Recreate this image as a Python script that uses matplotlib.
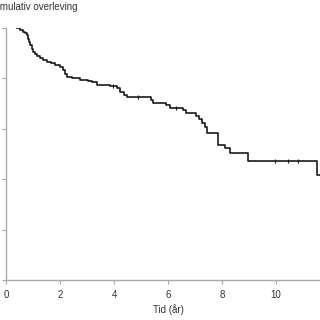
import matplotlib
matplotlib.use("Agg")
import matplotlib.pyplot as plt
import numpy as np

plt.rcParams['font.family'] = ['Liberation Sans', 'DejaVu Sans']

# Kaplan-Meier steps (time in years, cumulative survival)
tider = [0.0, 0.41, 0.52, 0.63, 0.70, 0.78, 0.81, 0.85, 0.89, 0.96, 1.00, 1.07,
         1.15, 1.26, 1.37, 1.52, 1.67, 1.81, 2.00, 2.11, 2.19, 2.26, 2.44, 2.74,
         3.04, 3.19, 3.37, 3.85, 4.11, 4.22, 4.37, 4.48, 5.37, 5.44, 5.93, 6.07,
         6.56, 6.67, 7.04, 7.15, 7.26, 7.37, 7.44, 7.85, 8.11, 8.30, 8.96, 11.52]
overleving = [1.0, 1.0, 0.992, 0.984, 0.980, 0.972, 0.956, 0.944, 0.933, 0.917,
              0.905, 0.897, 0.889, 0.881, 0.873, 0.865, 0.861, 0.853, 0.845,
              0.833, 0.817, 0.806, 0.802, 0.794, 0.790, 0.786, 0.774, 0.770,
              0.762, 0.746, 0.734, 0.726, 0.714, 0.702, 0.694, 0.683, 0.675,
              0.663, 0.651, 0.639, 0.623, 0.607, 0.583, 0.536, 0.524, 0.504,
              0.472, 0.417]
slutt_tid = 11.7

sensur_tid = [3.95, 4.9, 6.3, 9.96, 10.44, 10.81]

x_ticks = [0, 2, 4, 6, 8, 10]
y_ticks = [0, 0.2, 0.4, 0.6, 0.8, 1.0]
y_labels = ['0', '0.2', '0.4', '0.6', '0.8', '1.0']

fig = plt.figure(figsize=(3.2, 3.2), dpi=100)
ax = fig.add_axes([0.019, 0.125, 0.981, 0.7875])

xs = tider + [slutt_tid]
ys = overleving + [overleving[-1]]
ax.step(xs[1:], ys[1:], where='post', color='#1a1a1a', lw=1.2, zorder=3)

# censoring marks on the curve
sens_y = [overleving[np.searchsorted(tider, t, side='right') - 1] for t in sensur_tid]
ax.plot(sensur_tid, sens_y, linestyle='none', marker='|', ms=3, mew=0.8,
        color='#1a1a1a', zorder=4)

ax.set_xlim(0, 11.63)
ax.set_ylim(0, 1.0)
ax.set_xticks(x_ticks)
ax.set_yticks(y_ticks)
ax.set_yticklabels(y_labels)

for s in ['top', 'right']:
    ax.spines[s].set_visible(False)
for s in ['left', 'bottom']:
    ax.spines[s].set_color('#aaaaaa')
    ax.spines[s].set_linewidth(1.0)

ax.tick_params(colors='#aaaaaa', labelcolor='#333333', labelsize=7, length=3,
               width=0.8, pad=4)

ax.set_xlabel('Tid (år)', fontsize=7, color='#333333')
ax.xaxis.set_label_coords(6 / 11.63, -0.095)

fig.text(-0.036, 0.978, 'Kumulativ overleving', fontsize=7, color='#333333',
         ha='left', va='center')

fig.savefig('out.png', dpi=100)
